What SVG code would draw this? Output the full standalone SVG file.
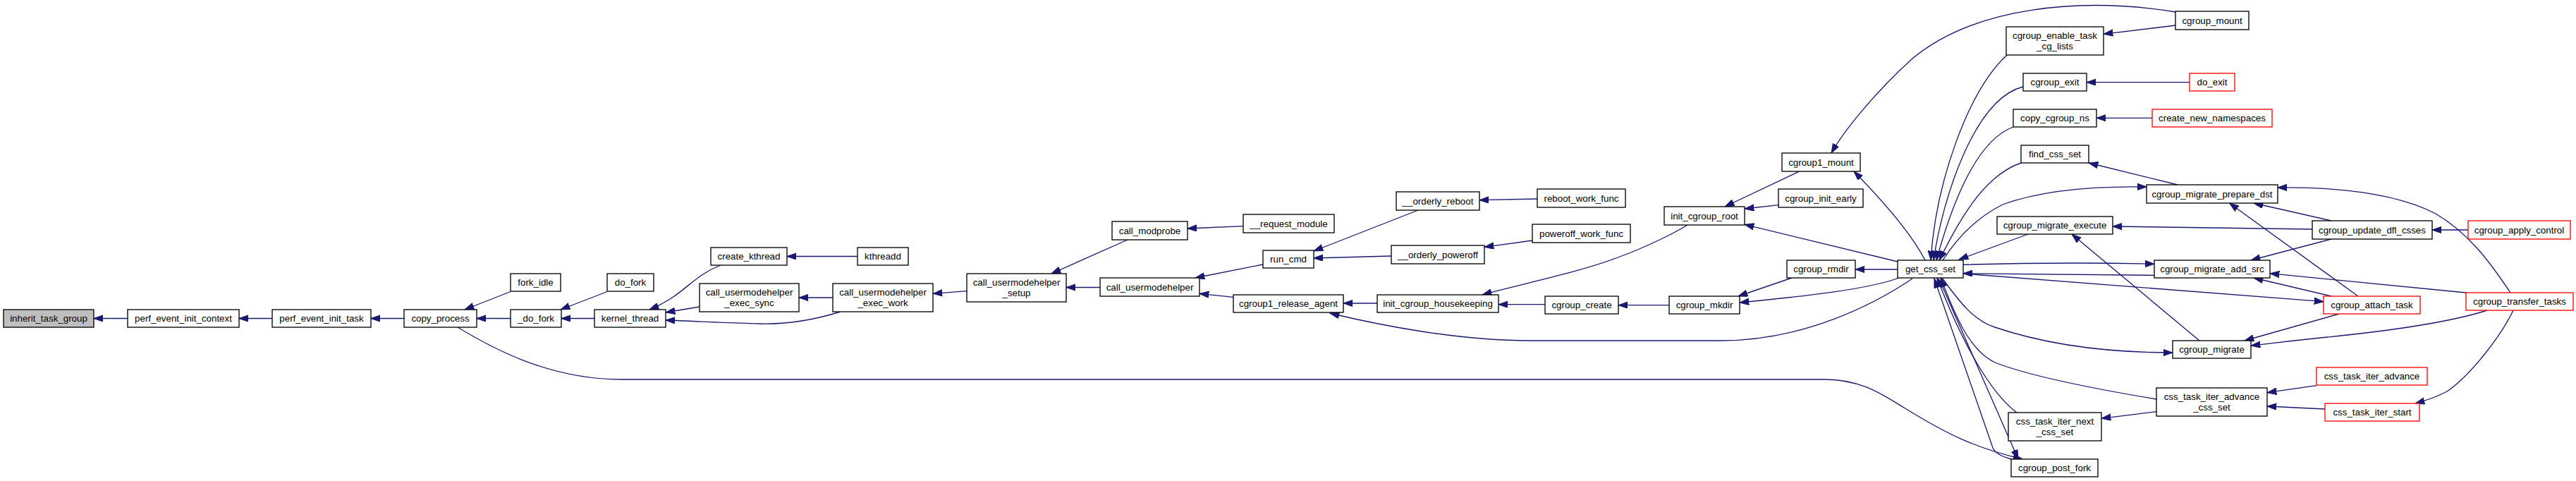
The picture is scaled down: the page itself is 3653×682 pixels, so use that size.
<svg xmlns="http://www.w3.org/2000/svg" width="3653" height="682" viewBox="0 0 3653 682">
<defs>
<style>
.n rect{fill:#ffffff;stroke:#000000;stroke-width:1.33}
.n.r rect{stroke:#ff0000}
.n.root rect{fill:#bfbfbf}
.n text{font-family:"Liberation Sans",Arial,Helvetica,sans-serif;font-size:13.33px;fill:#000000;text-anchor:middle}
.e path{fill:none;stroke:#191970;stroke-width:1.33;marker-end:url(#ah)}
</style>
<marker id="ah" markerWidth="14" markerHeight="10" refX="13.3" refY="4.7" orient="auto" markerUnits="userSpaceOnUse">
<path d="M0,0 L13.3,4.7 L0,9.4 z" fill="#191970" stroke="#191970" stroke-width="1"/>
</marker>
</defs>
<rect width="3653" height="682" fill="#ffffff"/>
<g id="edges" class="e">
<path d="M181,451.5 L133,451.5"/>
<path d="M386,451.5 L339,451.5"/>
<path d="M573,451.5 L526,451.5"/>
<path d="M724,413.5 L659,439"/>
<path d="M724,451.5 L676,451.5"/>
<path d="M861,413.5 L795,439"/>
<path d="M843,451.5 L796,451.5"/>
<path d="M1022,376 C980,392 972,418 921,439"/>
<path d="M992,435 L944,443"/>
<path d="M1192,442 C1150,455 1110,460 1077,459 C1030,458 980,455 944,454"/>
<path d="M1216,363.5 L1116,363.5"/>
<path d="M1181,422 L1133,422"/>
<path d="M1371,412.7 L1323,416.3"/>
<path d="M1560,407.5 L1512,407.5"/>
<path d="M1599,340 L1491,388"/>
<path d="M1763,320.7 L1684,324"/>
<path d="M1791,375 L1695,394"/>
<path d="M1749,421.3 L1701,416.3"/>
<path d="M2011,298 L1863,356"/>
<path d="M1973,363 L1863,366"/>
<path d="M2180,282 L2098,283.7"/>
<path d="M2173,341 L2105,350.3"/>
<path d="M2393,319 C2370,333 2330,352 2297,364 C2240,386 2160,402 2102,418"/>
<path d="M1953,430 L1905,430"/>
<path d="M2191,431.7 L2125,431.7"/>
<path d="M2367,432.7 L2295,432.7"/>
<path d="M2712,395 C2660,430 2560,483 2440,483 L2170,483 C2070,483 1960,462 1886,444"/>
<path d="M2551,243.3 L2446,293"/>
<path d="M2522.5,290.7 L2474,296"/>
<path d="M2691,371 L2474,318.3"/>
<path d="M2730,369 C2715,340 2685,300 2629,243"/>
<path d="M3085,17 C2950,-5 2800,10 2712,83 C2660,130 2615,185 2597,217"/>
<path d="M3085,36 L2983,48.3"/>
<path d="M2846,78 C2790,130 2745,260 2738,369"/>
<path d="M2869,123 C2800,140 2755,280 2742,369"/>
<path d="M2855,180 C2800,200 2765,300 2746,369"/>
<path d="M2866,231 C2810,250 2775,320 2750,369"/>
<path d="M2755,369 C2780,330 2810,305 2840,290 C2900,268 2980,264 3044,265"/>
<path d="M3088,262 L2962,231"/>
<path d="M3105,116.7 L2959,116.7"/>
<path d="M3052,167.3 L2973,167.3"/>
<path d="M3279,325 L2996,321"/>
<path d="M2876,332 L2778,368"/>
<path d="M3119,483 L2938,332"/>
<path d="M2691,382 L2631,382"/>
<path d="M2541,394 L2465,420"/>
<path d="M2693,394 C2650,410 2560,420 2467,429"/>
<path d="M649,464 C700,495 780,538 882,538 L2588,538 C2640,538 2670,560 2700,578 C2760,615 2800,635 2868,651"/>
<path d="M2852,651 C2838,647 2830,643 2826,635 L2743,395"/>
<path d="M2750,396 L2862,651"/>
<path d="M2860,585 C2820,555 2780,480 2747,394"/>
<path d="M3058,583.7 L2980,593.3"/>
<path d="M3058,566 C2950,548 2870,530 2829,514 C2790,495 2770,440 2752,394"/>
<path d="M2754,394 C2780,430 2800,455 2829,464 C2900,488 2980,500 3081,500"/>
<path d="M2784,375.3 C2900,372 3000,373 3055,374.3"/>
<path d="M3055,390.3 C2950,389 2850,388 2784,387.7"/>
<path d="M2784,388 L3295,427.7"/>
<path d="M3306,339 L3192,369"/>
<path d="M3497,415 L3219,387.7"/>
<path d="M3306,420 L3196,394"/>
<path d="M3344,420 L3161.5,288"/>
<path d="M3560,415 C3530,370 3500,330 3454,303 C3400,275 3320,265 3230,266"/>
<path d="M3306,313 L3196,288"/>
<path d="M3500,326 L3449,326"/>
<path d="M3317,445 L3183,483"/>
<path d="M3527,440 C3480,455 3400,468 3300,478 C3250,483 3220,487 3192,490"/>
<path d="M3285,546.7 L3215,556.7"/>
<path d="M3297,580 L3215,576"/>
<path d="M3564,440 C3545,480 3500,535 3470,555 C3455,563 3440,568 3425,572"/>
</g>
<g id="inherit_task_group" class="n root"><rect x="5" y="439" width="128" height="25"/><text x="69" y="456.2">inherit_task_group</text></g>
<g id="perf_event_init_context" class="n"><rect x="181" y="439" width="158" height="25"/><text x="260" y="456.2">perf_event_init_context</text></g>
<g id="perf_event_init_task" class="n"><rect x="386" y="439" width="140" height="25"/><text x="456" y="456.2">perf_event_init_task</text></g>
<g id="copy_process" class="n"><rect x="573" y="439" width="103" height="25"/><text x="624.5" y="456.2">copy_process</text></g>
<g id="fork_idle" class="n"><rect x="724" y="388" width="71" height="25"/><text x="759.5" y="405.2">fork_idle</text></g>
<g id="_do_fork" class="n"><rect x="724" y="439" width="72" height="25"/><text x="760" y="456.2">_do_fork</text></g>
<g id="do_fork" class="n"><rect x="861" y="388" width="66" height="25"/><text x="894" y="405.2">do_fork</text></g>
<g id="kernel_thread" class="n"><rect x="843" y="439" width="101" height="25"/><text x="893.5" y="456.2">kernel_thread</text></g>
<g id="create_kthread" class="n"><rect x="1008" y="351" width="108" height="25"/><text x="1062" y="368.2">create_kthread</text></g>
<g id="call_usermodehelper_exec_sync" class="n"><rect x="992" y="402" width="141" height="40"/><text x="1062.5" y="419">call_usermodehelper</text><text x="1062.5" y="434">_exec_sync</text></g>
<g id="kthreadd" class="n"><rect x="1216" y="351" width="72" height="25"/><text x="1252" y="368.2">kthreadd</text></g>
<g id="call_usermodehelper_exec_work" class="n"><rect x="1181" y="402" width="142" height="40"/><text x="1252" y="419">call_usermodehelper</text><text x="1252" y="434">_exec_work</text></g>
<g id="call_usermodehelper_setup" class="n"><rect x="1371" y="388" width="141" height="40"/><text x="1441.5" y="405">call_usermodehelper</text><text x="1441.5" y="420">_setup</text></g>
<g id="call_modprobe" class="n"><rect x="1577" y="314" width="107" height="26"/><text x="1630.5" y="331.7">call_modprobe</text></g>
<g id="call_usermodehelper" class="n"><rect x="1560" y="394" width="141" height="26"/><text x="1630.5" y="411.7">call_usermodehelper</text></g>
<g id="__request_module" class="n"><rect x="1763" y="304" width="129" height="26"/><text x="1827.5" y="321.7">__request_module</text></g>
<g id="run_cmd" class="n"><rect x="1791" y="355" width="72" height="25"/><text x="1827" y="372.2">run_cmd</text></g>
<g id="cgroup1_release_agent" class="n"><rect x="1749" y="418" width="156" height="25"/><text x="1827" y="435.2">cgroup1_release_agent</text></g>
<g id="__orderly_reboot" class="n"><rect x="1980" y="272" width="118" height="26"/><text x="2039" y="289.7">__orderly_reboot</text></g>
<g id="__orderly_poweroff" class="n"><rect x="1973" y="348" width="132" height="26"/><text x="2039" y="365.7">__orderly_poweroff</text></g>
<g id="init_cgroup_housekeeping" class="n"><rect x="1953" y="418" width="172" height="25"/><text x="2039" y="435.2">init_cgroup_housekeeping</text></g>
<g id="reboot_work_func" class="n"><rect x="2180" y="268" width="125" height="26"/><text x="2242.5" y="285.7">reboot_work_func</text></g>
<g id="poweroff_work_func" class="n"><rect x="2173" y="318" width="139" height="26"/><text x="2242.5" y="335.7">poweroff_work_func</text></g>
<g id="cgroup_create" class="n"><rect x="2191" y="420" width="104" height="25"/><text x="2243" y="437.2">cgroup_create</text></g>
<g id="init_cgroup_root" class="n"><rect x="2360" y="293" width="114" height="26"/><text x="2417" y="310.7">init_cgroup_root</text></g>
<g id="cgroup_mkdir" class="n"><rect x="2367" y="420" width="100" height="25"/><text x="2417" y="437.2">cgroup_mkdir</text></g>
<g id="cgroup1_mount" class="n"><rect x="2527" y="217" width="111" height="26"/><text x="2582.5" y="234.7">cgroup1_mount</text></g>
<g id="cgroup_init_early" class="n"><rect x="2522" y="268" width="120" height="26"/><text x="2582" y="285.7">cgroup_init_early</text></g>
<g id="cgroup_rmdir" class="n"><rect x="2534" y="369" width="97" height="25"/><text x="2582.5" y="386.2">cgroup_rmdir</text></g>
<g id="get_css_set" class="n"><rect x="2691" y="369" width="93" height="25"/><text x="2737.5" y="386.2">get_css_set</text></g>
<g id="cgroup_enable_task_cg_lists" class="n"><rect x="2845" y="38" width="138" height="40"/><text x="2914" y="55">cgroup_enable_task</text><text x="2914" y="70">_cg_lists</text></g>
<g id="cgroup_exit" class="n"><rect x="2869" y="104" width="90" height="25"/><text x="2914" y="121.2">cgroup_exit</text></g>
<g id="copy_cgroup_ns" class="n"><rect x="2855" y="155" width="118" height="25"/><text x="2914" y="172.2">copy_cgroup_ns</text></g>
<g id="find_css_set" class="n"><rect x="2866" y="206" width="96" height="25"/><text x="2914" y="223.2">find_css_set</text></g>
<g id="cgroup_migrate_execute" class="n"><rect x="2832" y="307" width="164" height="25"/><text x="2914" y="324.2">cgroup_migrate_execute</text></g>
<g id="css_task_iter_next_css_set" class="n"><rect x="2848" y="585" width="132" height="40"/><text x="2914" y="602">css_task_iter_next</text><text x="2914" y="617">_css_set</text></g>
<g id="cgroup_post_fork" class="n"><rect x="2852" y="651" width="123" height="25"/><text x="2913.5" y="668.2">cgroup_post_fork</text></g>
<g id="cgroup_mount" class="n"><rect x="3085" y="16" width="104" height="26"/><text x="3137" y="33.7">cgroup_mount</text></g>
<g id="do_exit" class="n r"><rect x="3105" y="104" width="64" height="25"/><text x="3137" y="121.2">do_exit</text></g>
<g id="create_new_namespaces" class="n r"><rect x="3052" y="155" width="170" height="25"/><text x="3137" y="172.2">create_new_namespaces</text></g>
<g id="cgroup_migrate_prepare_dst" class="n"><rect x="3044" y="262" width="186" height="26"/><text x="3137" y="279.7">cgroup_migrate_prepare_dst</text></g>
<g id="cgroup_migrate_add_src" class="n"><rect x="3055" y="369" width="164" height="25"/><text x="3137" y="386.2">cgroup_migrate_add_src</text></g>
<g id="cgroup_migrate" class="n"><rect x="3081" y="483" width="111" height="25"/><text x="3136.5" y="500.2">cgroup_migrate</text></g>
<g id="css_task_iter_advance_css_set" class="n"><rect x="3058" y="550" width="157" height="40"/><text x="3136.5" y="567">css_task_iter_advance</text><text x="3136.5" y="582">_css_set</text></g>
<g id="cgroup_update_dfl_csses" class="n"><rect x="3279" y="313" width="170" height="26"/><text x="3364" y="330.7">cgroup_update_dfl_csses</text></g>
<g id="cgroup_attach_task" class="n r"><rect x="3295" y="420" width="137" height="25"/><text x="3363.5" y="437.2">cgroup_attach_task</text></g>
<g id="css_task_iter_advance" class="n r"><rect x="3285" y="521" width="157" height="25"/><text x="3363.5" y="538.2">css_task_iter_advance</text></g>
<g id="css_task_iter_start" class="n r"><rect x="3297" y="572" width="134" height="25"/><text x="3364" y="589.2">css_task_iter_start</text></g>
<g id="cgroup_apply_control" class="n r"><rect x="3500" y="313" width="145" height="26"/><text x="3572.5" y="330.7">cgroup_apply_control</text></g>
<g id="cgroup_transfer_tasks" class="n r"><rect x="3497" y="415" width="152" height="25"/><text x="3573" y="432.2">cgroup_transfer_tasks</text></g>
</svg>
